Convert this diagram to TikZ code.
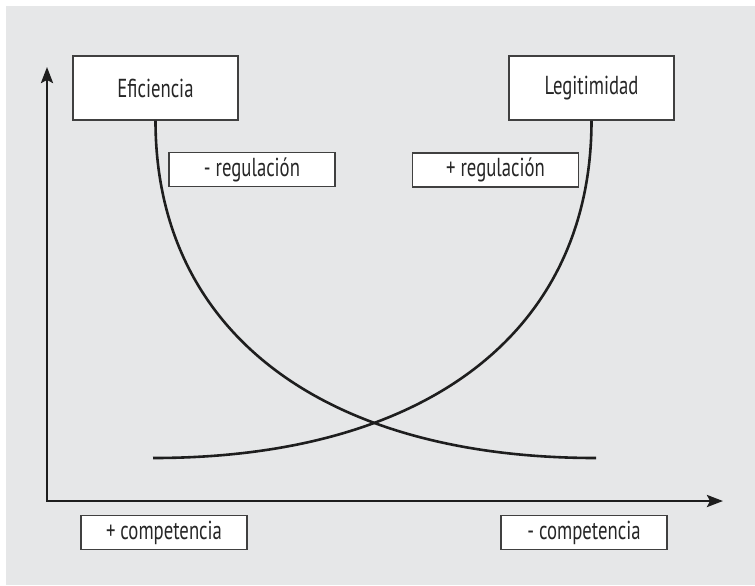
\documentclass[tikz,border=0pt]{standalone}
\usepackage{fontspec}
\setmainfont{PT Sans}[FakeStretch=0.72]
\usepackage{tikz}
\usetikzlibrary{positioning,arrows.meta}
\definecolor{bggray}{HTML}{E6E7E8}
\definecolor{boxline}{HTML}{404040}
\definecolor{curveblack}{HTML}{1E1E1E}

\begin{document}
\begin{tikzpicture}[x=0.5pt, y=-0.5pt,
    every node/.style={font=\fontsize{13}{15}\selectfont, text=black!85},
    bigbox/.style={draw=boxline, fill=white, line width=0.65pt, minimum width=82.5pt, minimum height=32pt, inner sep=0pt},
    smallbox/.style={draw=boxline, fill=white, line width=0.65pt, minimum width=83pt, minimum height=17pt, inner sep=0pt},
    curve/.style={draw=curveblack, line width=1.3pt},
    axis/.style={draw=curveblack, line width=1.3pt, line join=miter, {Stealth[length=8pt,width=6pt,inset=1.5pt]}-{Stealth[length=8pt,width=6pt,inset=1.5pt]}}]

    \useasboundingbox (0,0) rectangle (755,585);
    \fill[bggray] (6,6) rectangle (755,585);

    % ejes
    \coordinate (origin) at (47,501);
    \coordinate (ytip) at (47,67);
    \coordinate (xtip) at (723,501);
    \draw[axis] (ytip) -- (origin) -- (xtip);

    \node[bigbox] (efic) at (155.5,88) {Eficiencia};
    \node[bigbox] (legit) at (591.5,88) {Legitimidad};

    \node[smallbox] (menosreg) at (252,169.5) {- regulación};
    \node[smallbox] (masreg) at (495.5,170) {+ regulación};

    \node[smallbox] (mascomp) at (164,532.5) {+ competencia};
    \node[smallbox] (menoscomp) at (584,532.5) {- competencia};

    % curvas
    \coordinate (eficend) at (596,458);
    \coordinate (legitstart) at (153,458);
    \draw[curve] (efic.south) .. controls +(0,210) and +(-275,0) .. (eficend);
    \draw[curve] (legitstart) .. controls +(275,0) and +(0,210) .. (legit.south);
\end{tikzpicture}
\end{document}
